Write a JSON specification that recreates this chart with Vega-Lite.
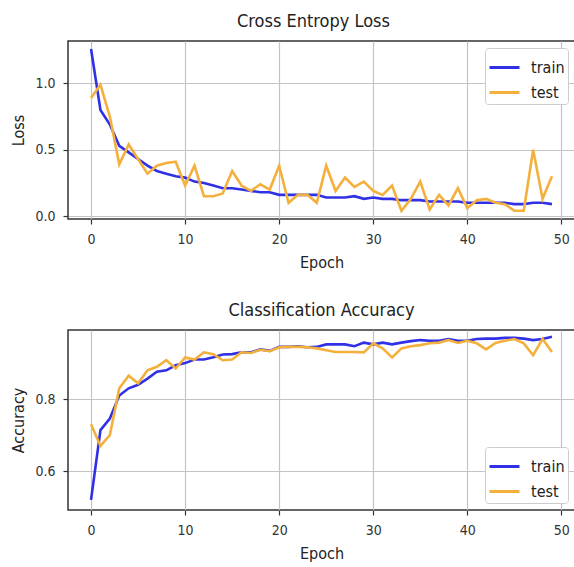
{
  "$schema": "https://vega.github.io/schema/vega-lite/v6.json",
  "padding": {"left": 10, "top": 12, "right": 0, "bottom": 0},
  "background": "white",
  "datasets": {
    "hist": [
      {"epoch": 0, "series": "train", "loss": 1.26, "accuracy": 0.52},
      {"epoch": 1, "series": "train", "loss": 0.80, "accuracy": 0.714},
      {"epoch": 2, "series": "train", "loss": 0.69, "accuracy": 0.746},
      {"epoch": 3, "series": "train", "loss": 0.53, "accuracy": 0.81},
      {"epoch": 4, "series": "train", "loss": 0.48, "accuracy": 0.83},
      {"epoch": 5, "series": "train", "loss": 0.43, "accuracy": 0.84},
      {"epoch": 6, "series": "train", "loss": 0.38, "accuracy": 0.857},
      {"epoch": 7, "series": "train", "loss": 0.34, "accuracy": 0.876},
      {"epoch": 8, "series": "train", "loss": 0.32, "accuracy": 0.88},
      {"epoch": 9, "series": "train", "loss": 0.30, "accuracy": 0.894},
      {"epoch": 10, "series": "train", "loss": 0.29, "accuracy": 0.90},
      {"epoch": 11, "series": "train", "loss": 0.26, "accuracy": 0.91},
      {"epoch": 12, "series": "train", "loss": 0.25, "accuracy": 0.91},
      {"epoch": 13, "series": "train", "loss": 0.23, "accuracy": 0.916},
      {"epoch": 14, "series": "train", "loss": 0.21, "accuracy": 0.924},
      {"epoch": 15, "series": "train", "loss": 0.21, "accuracy": 0.925},
      {"epoch": 16, "series": "train", "loss": 0.20, "accuracy": 0.93},
      {"epoch": 17, "series": "train", "loss": 0.19, "accuracy": 0.93},
      {"epoch": 18, "series": "train", "loss": 0.18, "accuracy": 0.938},
      {"epoch": 19, "series": "train", "loss": 0.18, "accuracy": 0.934},
      {"epoch": 20, "series": "train", "loss": 0.16, "accuracy": 0.945},
      {"epoch": 21, "series": "train", "loss": 0.16, "accuracy": 0.945},
      {"epoch": 22, "series": "train", "loss": 0.16, "accuracy": 0.947},
      {"epoch": 23, "series": "train", "loss": 0.16, "accuracy": 0.944},
      {"epoch": 24, "series": "train", "loss": 0.16, "accuracy": 0.945},
      {"epoch": 25, "series": "train", "loss": 0.14, "accuracy": 0.952},
      {"epoch": 26, "series": "train", "loss": 0.14, "accuracy": 0.952},
      {"epoch": 27, "series": "train", "loss": 0.14, "accuracy": 0.952},
      {"epoch": 28, "series": "train", "loss": 0.15, "accuracy": 0.947},
      {"epoch": 29, "series": "train", "loss": 0.13, "accuracy": 0.957},
      {"epoch": 30, "series": "train", "loss": 0.14, "accuracy": 0.952},
      {"epoch": 31, "series": "train", "loss": 0.13, "accuracy": 0.957},
      {"epoch": 32, "series": "train", "loss": 0.13, "accuracy": 0.952},
      {"epoch": 33, "series": "train", "loss": 0.12, "accuracy": 0.957},
      {"epoch": 34, "series": "train", "loss": 0.12, "accuracy": 0.961},
      {"epoch": 35, "series": "train", "loss": 0.12, "accuracy": 0.964},
      {"epoch": 36, "series": "train", "loss": 0.11, "accuracy": 0.962},
      {"epoch": 37, "series": "train", "loss": 0.11, "accuracy": 0.962},
      {"epoch": 38, "series": "train", "loss": 0.11, "accuracy": 0.967},
      {"epoch": 39, "series": "train", "loss": 0.11, "accuracy": 0.962},
      {"epoch": 40, "series": "train", "loss": 0.10, "accuracy": 0.962},
      {"epoch": 41, "series": "train", "loss": 0.10, "accuracy": 0.967},
      {"epoch": 42, "series": "train", "loss": 0.10, "accuracy": 0.968},
      {"epoch": 43, "series": "train", "loss": 0.10, "accuracy": 0.968},
      {"epoch": 44, "series": "train", "loss": 0.10, "accuracy": 0.970},
      {"epoch": 45, "series": "train", "loss": 0.09, "accuracy": 0.970},
      {"epoch": 46, "series": "train", "loss": 0.09, "accuracy": 0.968},
      {"epoch": 47, "series": "train", "loss": 0.10, "accuracy": 0.964},
      {"epoch": 48, "series": "train", "loss": 0.10, "accuracy": 0.967},
      {"epoch": 49, "series": "train", "loss": 0.09, "accuracy": 0.973},
      {"epoch": 0, "series": "test", "loss": 0.89, "accuracy": 0.73},
      {"epoch": 1, "series": "test", "loss": 0.99, "accuracy": 0.67},
      {"epoch": 2, "series": "test", "loss": 0.75, "accuracy": 0.70},
      {"epoch": 3, "series": "test", "loss": 0.39, "accuracy": 0.83},
      {"epoch": 4, "series": "test", "loss": 0.54, "accuracy": 0.865},
      {"epoch": 5, "series": "test", "loss": 0.43, "accuracy": 0.844},
      {"epoch": 6, "series": "test", "loss": 0.32, "accuracy": 0.88},
      {"epoch": 7, "series": "test", "loss": 0.38, "accuracy": 0.89},
      {"epoch": 8, "series": "test", "loss": 0.40, "accuracy": 0.908},
      {"epoch": 9, "series": "test", "loss": 0.41, "accuracy": 0.885},
      {"epoch": 10, "series": "test", "loss": 0.23, "accuracy": 0.916},
      {"epoch": 11, "series": "test", "loss": 0.38, "accuracy": 0.91},
      {"epoch": 12, "series": "test", "loss": 0.15, "accuracy": 0.93},
      {"epoch": 13, "series": "test", "loss": 0.15, "accuracy": 0.925},
      {"epoch": 14, "series": "test", "loss": 0.17, "accuracy": 0.908},
      {"epoch": 15, "series": "test", "loss": 0.34, "accuracy": 0.91},
      {"epoch": 16, "series": "test", "loss": 0.23, "accuracy": 0.93},
      {"epoch": 17, "series": "test", "loss": 0.19, "accuracy": 0.928},
      {"epoch": 18, "series": "test", "loss": 0.24, "accuracy": 0.937},
      {"epoch": 19, "series": "test", "loss": 0.20, "accuracy": 0.933},
      {"epoch": 20, "series": "test", "loss": 0.38, "accuracy": 0.944},
      {"epoch": 21, "series": "test", "loss": 0.10, "accuracy": 0.945},
      {"epoch": 22, "series": "test", "loss": 0.16, "accuracy": 0.945},
      {"epoch": 23, "series": "test", "loss": 0.16, "accuracy": 0.944},
      {"epoch": 24, "series": "test", "loss": 0.10, "accuracy": 0.941},
      {"epoch": 25, "series": "test", "loss": 0.38, "accuracy": 0.936},
      {"epoch": 26, "series": "test", "loss": 0.19, "accuracy": 0.931},
      {"epoch": 27, "series": "test", "loss": 0.29, "accuracy": 0.931},
      {"epoch": 28, "series": "test", "loss": 0.22, "accuracy": 0.931},
      {"epoch": 29, "series": "test", "loss": 0.26, "accuracy": 0.93},
      {"epoch": 30, "series": "test", "loss": 0.19, "accuracy": 0.955},
      {"epoch": 31, "series": "test", "loss": 0.16, "accuracy": 0.941},
      {"epoch": 32, "series": "test", "loss": 0.23, "accuracy": 0.916},
      {"epoch": 33, "series": "test", "loss": 0.04, "accuracy": 0.941},
      {"epoch": 34, "series": "test", "loss": 0.13, "accuracy": 0.947},
      {"epoch": 35, "series": "test", "loss": 0.26, "accuracy": 0.95},
      {"epoch": 36, "series": "test", "loss": 0.05, "accuracy": 0.955},
      {"epoch": 37, "series": "test", "loss": 0.16, "accuracy": 0.957},
      {"epoch": 38, "series": "test", "loss": 0.08, "accuracy": 0.964},
      {"epoch": 39, "series": "test", "loss": 0.21, "accuracy": 0.956},
      {"epoch": 40, "series": "test", "loss": 0.06, "accuracy": 0.962},
      {"epoch": 41, "series": "test", "loss": 0.12, "accuracy": 0.955},
      {"epoch": 42, "series": "test", "loss": 0.13, "accuracy": 0.938},
      {"epoch": 43, "series": "test", "loss": 0.10, "accuracy": 0.956},
      {"epoch": 44, "series": "test", "loss": 0.09, "accuracy": 0.962},
      {"epoch": 45, "series": "test", "loss": 0.04, "accuracy": 0.967},
      {"epoch": 46, "series": "test", "loss": 0.04, "accuracy": 0.955},
      {"epoch": 47, "series": "test", "loss": 0.50, "accuracy": 0.922},
      {"epoch": 48, "series": "test", "loss": 0.13, "accuracy": 0.967},
      {"epoch": 49, "series": "test", "loss": 0.30, "accuracy": 0.931}
    ]
  },
  "data": {"name": "hist"},
  "spacing": 30,
  "resolve": {"legend": {"color": "independent"}, "scale": {"color": "independent"}},
  "vconcat": [
    {
      "width": 507,
      "height": 178,
      "title": {"text": "Cross Entropy Loss", "dx": -8},
      "mark": {"type": "line", "strokeWidth": 2.6, "clip": true},
      "encoding": {
        "x": {"field": "epoch", "type": "quantitative", "title": "Epoch",
              "scale": {"domain": [-2.45, 51.45], "nice": false, "zero": false},
              "axis": {"values": [0, 10, 20, 30, 40, 50]}},
        "y": {"field": "loss", "type": "quantitative", "title": "Loss",
              "scale": {"domain": [-0.022, 1.32], "nice": false, "zero": false},
              "axis": {"values": [0, 0.5, 1.0], "format": ".1f"}},
        "color": {"field": "series", "type": "nominal",
                  "scale": {"domain": ["train", "test"], "range": ["#3030e6", "#f4b03c"]},
                  "legend": {"orient": "top-right", "title": null}}
      }
    },
    {
      "width": 507,
      "height": 180,
      "title": {"text": "Classification Accuracy"},
      "mark": {"type": "line", "strokeWidth": 2.6, "clip": true},
      "encoding": {
        "x": {"field": "epoch", "type": "quantitative", "title": "Epoch",
              "scale": {"domain": [-2.45, 51.45], "nice": false, "zero": false},
              "axis": {"values": [0, 10, 20, 30, 40, 50]}},
        "y": {"field": "accuracy", "type": "quantitative", "title": "Accuracy",
              "scale": {"domain": [0.492, 0.992], "nice": false, "zero": false},
              "axis": {"values": [0.6, 0.8], "format": ".1f"}},
        "color": {"field": "series", "type": "nominal",
                  "scale": {"domain": ["train", "test"], "range": ["#3030e6", "#f4b03c"]},
                  "legend": {"orient": "bottom-right", "title": null}}
      }
    }
  ],
  "config": {
    "font": "DejaVu Sans Condensed, DejaVu Sans",
    "view": {"stroke": "#333333", "strokeWidth": 1.5},
    "title": {"fontSize": 18, "fontWeight": "normal", "color": "#222222", "offset": 10, "font": "DejaVu Sans Condensed, DejaVu Sans"},
    "axis": {
      "domain": false,
      "grid": true,
      "gridColor": "#c4c4c4",
      "gridWidth": 1.2,
      "tickColor": "#333333",
      "tickSize": 5,
      "tickWidth": 1.2,
      "labelFontSize": 14,
      "labelColor": "#333333",
      "labelPadding": 8,
      "titleFontSize": 16,
      "titleFontWeight": "normal",
      "titleColor": "#222222",
      "titlePadding": 8,
      "labelFont": "DejaVu Sans Condensed, DejaVu Sans",
      "titleFont": "DejaVu Sans Condensed, DejaVu Sans"
    },
    "legend": {
      "symbolType": "stroke",
      "symbolStrokeWidth": 3,
      "symbolSize": 900,
      "labelFontSize": 16,
      "labelColor": "#222222",
      "labelOffset": 10,
      "rowPadding": -3,
      "padding": 3,
      "offset": 7,
      "fillColor": "white",
      "strokeColor": "#cccccc",
      "cornerRadius": 3,
      "labelFont": "DejaVu Sans Condensed, DejaVu Sans"
    }
  }
}
